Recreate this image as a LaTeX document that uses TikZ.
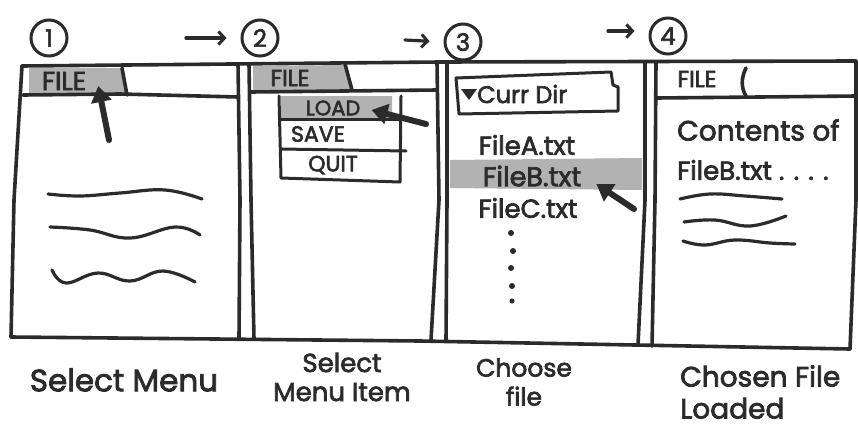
\documentclass[tikz,border=0pt]{standalone}
\usepackage{fontspec}
\setmainfont{Poppins}
\newfontfamily\marker{Poppins}[FakeBold=2.6]
\usetikzlibrary{arrows.meta}
\definecolor{ink}{HTML}{2B2B2B}
\definecolor{hl}{HTML}{B2B2B2}
\tikzset{
  pen/.style={draw=ink,line width=3.6pt,line cap=round,line join=round},
  thinpen/.style={draw=ink,line width=3pt,line cap=round,line join=round},
  stepnum/.style={circle,draw=ink,line width=3pt,minimum size=36pt,inner sep=0pt,
    text=ink,font=\fontsize{24}{24}\selectfont\marker},
  steparrow/.style={draw=ink,line width=3.2pt,line cap=round,shorten >=14pt,
    -{Straight Barb[length=6pt,width=13pt,line width=3pt]}},
  pointer/.style={draw=ink,line width=6pt,line cap=round,-{Triangle[length=16pt,width=20pt]}},
  hand/.style={text=ink,inner sep=1pt,font=\fontsize{#1}{#1}\selectfont\marker},
  hand/.default=20,
  caption/.style 2 args={text=ink,align=center,inner sep=0pt,font=\fontsize{#1}{#2}\selectfont\marker},
  wave/.style={draw=ink,line width=3.2pt,line cap=round},
  dot/.style={circle,fill=ink,inner sep=0pt,minimum size=#1},
  dot/.default=6pt
}
\begin{document}
\begin{tikzpicture}[x=1pt,y=-1pt]
\useasboundingbox (0,0) rectangle (858,434);

% step numbers and the arrows between them
\node[stepnum] (n1) at (49,38) {1};
\node[stepnum] (n2) at (260,38) {2};
\node[stepnum] (n3) at (463,42) {3};
\node[stepnum] (n4) at (668,36) {4};
\coordinate (s2) at (186,38);
\coordinate (s3) at (405,40);
\coordinate (s4) at (608,31);
\draw[steparrow] (s2) -- (n2.west);
\draw[steparrow] (s3) -- (n3.west);
\draw[steparrow] (s4) -- ([yshift=5pt]n4.west);

% highlighted regions (drawn first so the ink goes over them)
\fill[hl] (29,68) -- (122,68) -- (126,94) -- (29,95) -- cycle;
\fill[hl] (253,66) -- (345,65) -- (351,90) -- (253,91) -- cycle;
\fill[hl] (281,96) -- (392,96) -- (392,118) -- (281,119) -- cycle;
\fill[hl] (450,160) -- (642,158) -- (642,190) -- (450,188) -- cycle;

% outer frame
\draw[pen] (22,66) -- (440,62) -- (856,61);
\draw[pen] (22,66) -- (14,200) -- (11,337);
\draw[pen] (11,337) -- (420,341) -- (850,349);
\draw[pen] (850,349) -- (856,200) -- (856,61);

% panel dividers (double lines)
\draw[pen] (238,64) -- (240,200) -- (239,338);
\draw[pen] (249,64) -- (251,200) -- (254,339);
\draw[pen] (437,63) -- (439,200) -- (431,340);
\draw[pen] (447,63) -- (447,200) -- (446,340);
\draw[pen] (645,62) -- (645,200) -- (638,345);
\draw[pen] (656,62) -- (655,200) -- (652,346);

% panel 1: menu bar with the FILE menu selected
\draw[pen] (122,68) -- (127,95);
\draw[pen] (23,95) -- (120,94) -- (238,97);
\node[hand=26] (file1) at (64,81) {FILE};
\coordinate (p1) at (109,140);
\draw[pointer] (p1) -- ([shift={(11,5)}]file1.east);
\draw[wave] plot[smooth,tension=0.7] coordinates {(48,194) (80,196) (120,193) (165,190) (202,199)};
\draw[wave] plot[smooth,tension=0.7] coordinates {(50,227) (90,230) (130,238) (175,227) (200,235)};
\draw[wave] plot[smooth,tension=0.7] coordinates {(52,270) (66,283) (98,273) (130,281) (163,271) (195,282)};

% panel 2: menu opened, LOAD selected
\draw[pen] (345,64) -- (352,90);
\draw[pen] (251,92) -- (437,90);
\node[hand=23] (file2) at (290,78) {FILE};
\draw[thinpen] (279,96) -- (281,178) -- (400,182) -- (401,96);
\draw[thinpen] (281,119) -- (401,119);
\draw[thinpen] (281,149) -- (406,151);
\node[hand=21] (load) at (333,108) {LOAD};
\node[hand=22] (save) at (318,134) {SAVE};
\node[hand=22] (quit) at (333,165) {QUIT};
\coordinate (p2) at (426,124);
\draw[pointer] (p2) -- ([xshift=10pt,yshift=-2pt]load.east);

% panel 3: directory chooser
\draw[thinpen] (456,78) -- (611,72) -- (613,85) -- (618,87) -- (618,111) -- (459,114) -- cycle;
\fill[ink] (461,89) -- (477,89) -- (469,100) -- cycle;
\node[hand=24,anchor=west] (dir) at (476,94) {Curr Dir};
\node[hand=26] (fa) at (527,145) {FileA.txt};
\node[hand=27] (fb) at (532,176) {FileB.txt};
\node[hand=26] (fc) at (528,208) {FileC.txt};
\coordinate (p3) at (634,209);
\draw[pointer] (p3) -- ([shift={(14,8)}]fb.east);
\node[dot] (d1) at (511,233) {};
\node[dot] (d2) at (513,251) {};
\node[dot] (d3) at (511,268) {};
\node[dot] (d4) at (512,286) {};
\node[dot=5pt] (d5) at (512,301) {};

% panel 4: contents of the chosen file
\draw[pen] (746,68) .. controls (741,78) and (741,88) .. (746,96);
\draw[pen] (656,98) -- (760,97) -- (856,96);
\node[hand=23] (file4) at (697,79) {FILE};
\node[hand=28,anchor=west] (c1) at (676,130) {Contents of};
\node[hand=26,anchor=west] (c2) at (676,170) {FileB.txt . . . .};
\draw[wave] plot[smooth,tension=0.7] coordinates {(680,199) (710,194) (745,196) (782,199)};
\draw[wave] plot[smooth,tension=0.7] coordinates {(684,222) (715,220) (750,226) (786,216)};
\draw[wave] plot[smooth,tension=0.7] coordinates {(683,241) (705,245) (735,240) (770,243) (795,244)};

% captions
\node[caption={31}{35}] (l1) at (124,380) {Select Menu};
\node[caption={26}{29}] (l2) at (342,377) {Select\\Menu Item};
\node[caption={25}{29}] (l3) at (524,382) {Choose\\file};
\node[caption={28}{32},align=left,anchor=west] (l4) at (680,392) {Chosen File\\Loaded};
\end{tikzpicture}
\end{document}
